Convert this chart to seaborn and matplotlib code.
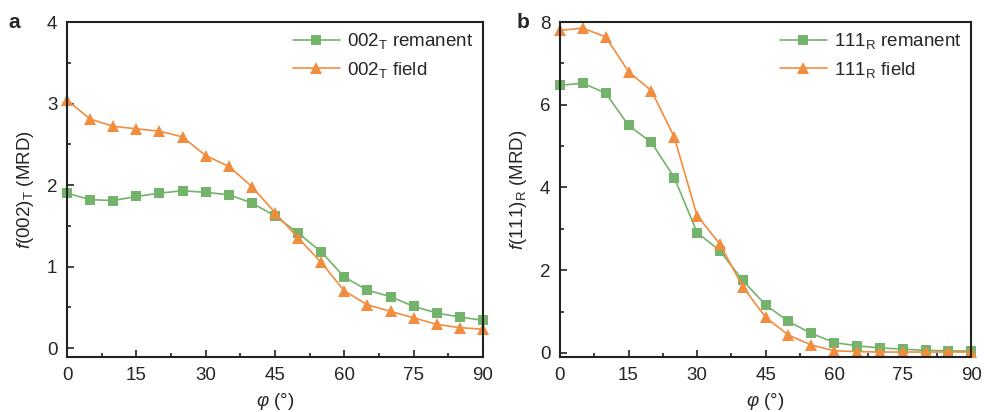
import pandas as pd
import matplotlib
matplotlib.use("Agg")
import matplotlib.pyplot as plt
import seaborn as sns
from matplotlib.ticker import MultipleLocator

# angles (deg)
phi = list(range(0, 95, 5))

# panel a: f(002)_T
rem_002 = [1.90, 1.82, 1.81, 1.86, 1.90, 1.93, 1.91, 1.88, 1.78, 1.62,
           1.41, 1.18, 0.87, 0.71, 0.63, 0.51, 0.43, 0.38, 0.34]
field_002 = [3.04, 2.81, 2.72, 2.69, 2.66, 2.59, 2.36, 2.23, 1.98, 1.66,
             1.35, 1.05, 0.70, 0.53, 0.45, 0.37, 0.29, 0.25, 0.23]

# panel b: f(111)_R
rem_111 = [6.47, 6.52, 6.28, 5.50, 5.09, 4.24, 2.91, 2.47, 1.75, 1.16,
           0.76, 0.47, 0.25, 0.17, 0.12, 0.09, 0.06, 0.05, 0.04]
field_111 = [7.80, 7.85, 7.64, 6.80, 6.34, 5.22, 3.32, 2.63, 1.60, 0.86,
             0.43, 0.19, 0.05, 0.03, 0.02, 0.02, 0.02, 0.02, 0.02]

green = "#74b36b"
orange = "#f28c3e"

sns.set_theme(style="ticks")
plt.rcParams["font.family"] = ["Liberation Sans", "DejaVu Sans"]
plt.rcParams["mathtext.fontset"] = "custom"
plt.rcParams["mathtext.rm"] = "Liberation Sans"
plt.rcParams["mathtext.it"] = "Liberation Sans:italic"
plt.rcParams["mathtext.bf"] = "Liberation Sans:bold"

fig = plt.figure(figsize=(9.84, 4.12), dpi=100)
ax_a = fig.add_axes([0.0681, 0.1335, 0.4228, 0.8131])
ax_b = fig.add_axes([0.5691, 0.1335, 0.4179, 0.8131])

panels = [
    (ax_a, rem_002, field_002, "T", "002", (-0.11, 4), 1, 0.5, "a"),
    (ax_b, rem_111, field_111, "R", "111", (-0.1, 8), 2, 1, "b"),
]

for ax, rem, fld, sub, hkl, ylim, ymaj, ymin, tag in panels:
    df = pd.DataFrame({"phi": phi, "rem": rem, "field": fld})
    sns.lineplot(data=df, x="phi", y="rem", ax=ax, color=green, marker="s",
                 markersize=7, markeredgewidth=0, linewidth=1.2,
                 label=rf"{hkl}$_\mathrm{{{sub}}}$ remanent", clip_on=False)
    sns.lineplot(data=df, x="phi", y="field", ax=ax, color=orange, marker="^",
                 markersize=9, markeredgewidth=0, linewidth=1.2,
                 label=rf"{hkl}$_\mathrm{{{sub}}}$ field", clip_on=False)
    ax.set_xlim(0, 90)
    ax.set_ylim(*ylim)
    ax.xaxis.set_major_locator(MultipleLocator(15))
    ax.xaxis.set_minor_locator(MultipleLocator(7.5))
    ax.yaxis.set_major_locator(MultipleLocator(ymaj))
    ax.yaxis.set_minor_locator(MultipleLocator(ymin))
    ax.tick_params(which="both", direction="in", top=False, right=False,
                   labelsize=13.5, color="#222222", width=1.2)
    ax.tick_params(which="major", length=5, pad=7)
    ax.tick_params(which="minor", length=3)
    for s in ax.spines.values():
        s.set_linewidth(1.5)
        s.set_color("#222222")
    ax.set_xlabel(r"$\varphi$ (°)", fontsize=13.5, labelpad=5)
    ax.set_ylabel(rf"$f$({hkl})$_\mathrm{{{sub}}}$ (MRD)", fontsize=13.5, labelpad=8)
    ax.legend(loc="upper right", frameon=False, fontsize=13.5,
              handlelength=2.5, handletextpad=0.4, labelspacing=0.45,
              borderaxespad=0.1)
    ax.text(-0.14 if tag == "a" else -0.105, 1.0, tag, transform=ax.transAxes,
            fontsize=15, fontweight="bold", va="center", ha="left")

fig.savefig("out.png", dpi=100)
